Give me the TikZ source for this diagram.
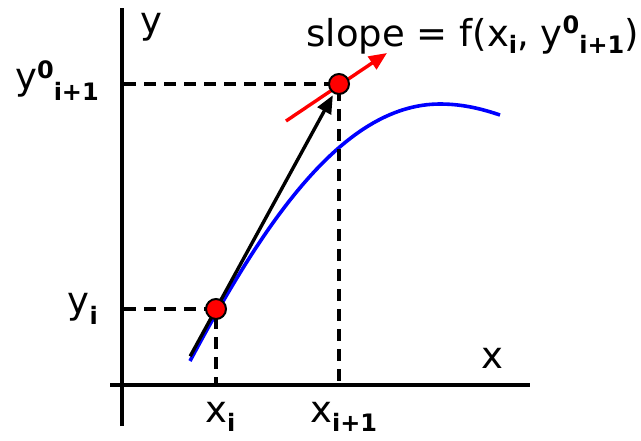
\documentclass[tikz,border=0pt]{standalone}
\usepackage{fontspec}
\setmainfont{DejaVu Sans}
\usetikzlibrary{arrows.meta,calc}
\newcommand{\mysub}[2][8pt]{\raisebox{-#1}{\fontsize{24}{24}\selectfont\bfseries #2}}
\newcommand{\mysup}[2][12pt]{\raisebox{#1}{\fontsize{24}{24}\selectfont\bfseries #2}}
\tikzset{
  axis/.style={line width=3.4pt},
  guide/.style={line width=3.4pt, dash pattern=on 12pt off 8pt},
  dot/.style={circle, draw=black, fill=red, line width=2pt, minimum size=20pt, inner sep=0pt},
  lbl/.style={font=\fontsize{37}{42}\selectfont, inner sep=0pt},
}
\begin{document}
\begin{tikzpicture}[x=1pt,y=-1pt]
\useasboundingbox (0,0) rectangle (641,440);
% axes
\coordinate (yt) at (122,8);
\coordinate (yb) at (122,426);
\coordinate (xl) at (110,385);
\coordinate (xr) at (530,385);
\draw[axis] (yb) -- (yt);
\draw[axis] (xl) -- (xr);
% blue curve
\draw[blue, line width=3.6pt] (190,361) .. controls (260,230) and (340,104) .. (440,104)
  .. controls (465,104) and (485,110) .. (500,115);
% points
\coordinate (P1) at (216,309);
\coordinate (P2) at (339,84);
\coordinate (y1a) at (124,309);
\coordinate (y2a) at (124,84);
\coordinate (x1a) at (216,385);
\coordinate (x2a) at (339,385);
\draw[guide] (y1a) -- (P1) -- (x1a);
\draw[guide] (y2a) -- (P2) -- (x2a);
% predictor arrow
\coordinate (bs) at ($(P1)!-0.21!(P2)$);
\coordinate (be) at ($(P1)!0.95!(P2)$);
\draw[line width=3.4pt, -{Triangle[length=18pt,width=15pt]}] (bs) -- (be);
% slope arrow
\coordinate (rs) at (286,121);
\coordinate (re) at (387,53);
\draw[red, line width=3.4pt, -{Triangle[length=18pt,width=15pt]}] (rs) -- (re);
\node[dot] (p1) at (P1) {};
\node[dot] (p2) at (P2) {};
% labels
\node[lbl, anchor=base] (ly) at (151,33) {y};
\node[lbl, anchor=base] (lx) at (492,368) {x};
\node[lbl, anchor=base east] (lyi) at (98,313) {y\mysub[11pt]{i}};
\node[lbl, anchor=base east] (lyn) at (99,89) {y\mysup[11pt]{0}\mysub[11pt]{i+1}};
\node[lbl, anchor=base west] (lxi) at (205,422) {x\mysub[9pt]{i}};
\node[lbl, anchor=base west] (lxn) at (310,422) {x\mysub[9pt]{i+1}};
\node[lbl, anchor=base east] (ls) at (639,46) {slope = f(x\mysub[7pt]{i}, y\mysup[13pt]{0}\mysub[7pt]{i+1})};
\end{tikzpicture}
\end{document}
